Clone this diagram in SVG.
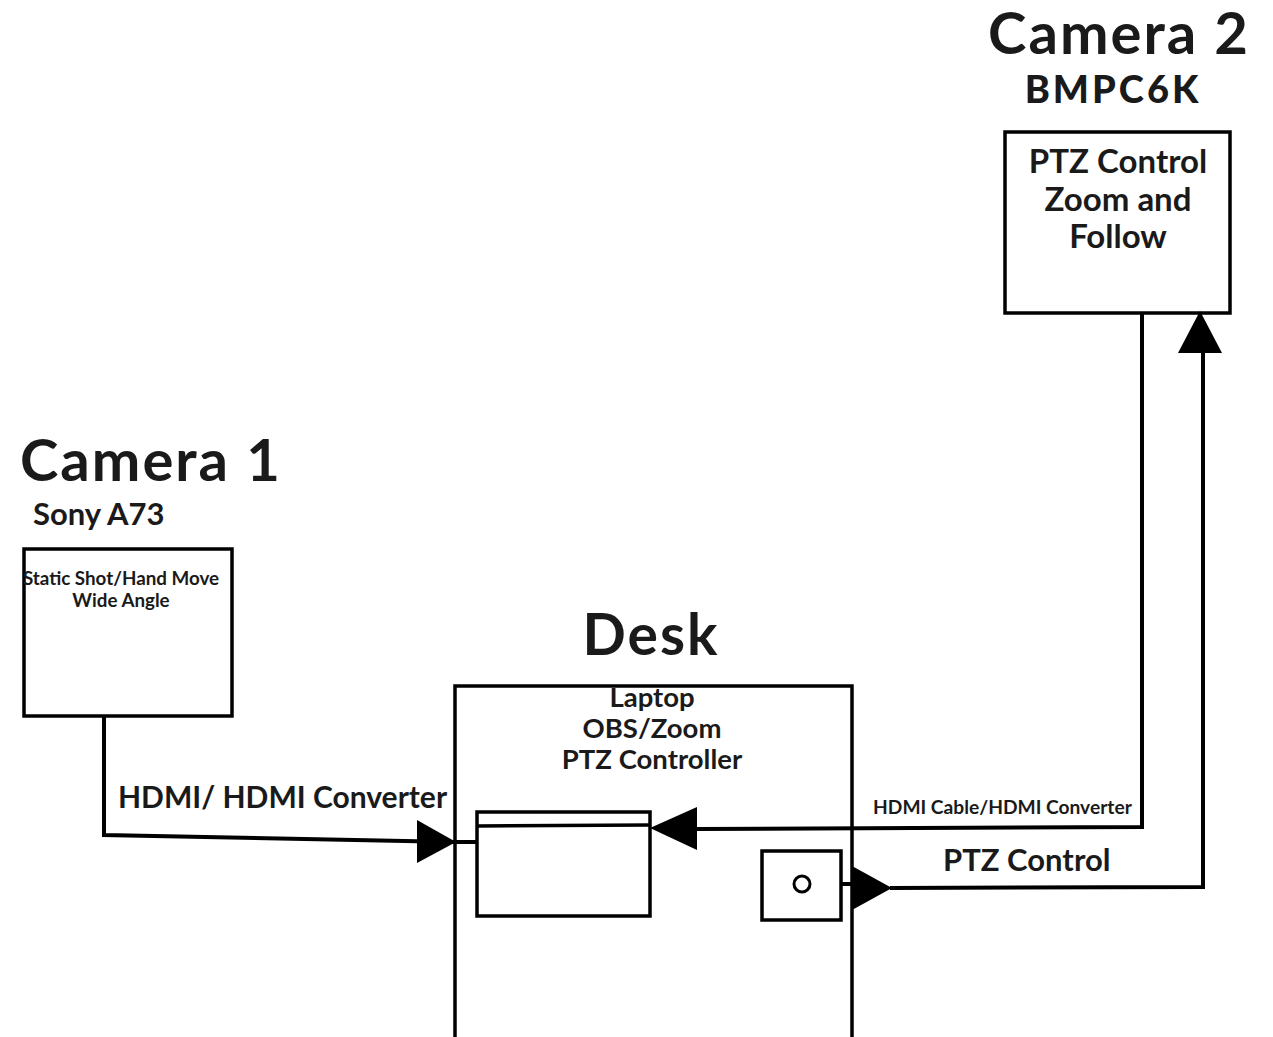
<svg xmlns="http://www.w3.org/2000/svg" width="1273" height="1037" viewBox="0 0 1273 1037">
<style>
text{font-family:Lato,"Liberation Sans",sans-serif;fill:#1a1a1a;font-weight:bold}
.box{fill:#fff;stroke:#000;stroke-width:3.5}
.ln{fill:none;stroke:#000;stroke-width:4;stroke-linejoin:miter}
.title{font-size:58px;letter-spacing:2px}
.lap{font-size:27.5px}
.cam2{font-size:33px}
</style>
<rect width="1273" height="1037" fill="#fff"/>
<g id="camera1">
<text class="title" x="20" y="481">Camera 1</text>
<text x="33" y="525" style="font-size:31px">Sony A73</text>
<rect class="box" x="24" y="549" width="208" height="167"/>
<text text-anchor="middle" x="121" y="585" style="font-size:18.8px">Static Shot/Hand Move</text>
<text text-anchor="middle" x="121" y="607" style="font-size:18.8px">Wide Angle</text>
</g>
<g id="camera2">
<text class="title" text-anchor="middle" x="1119" y="54">Camera 2</text>
<text x="1113" y="103" text-anchor="middle" style="font-size:38px;font-weight:900;letter-spacing:3px">BMPC6K</text>
<rect class="box" x="1005" y="132" width="225" height="181"/>
<text class="cam2" text-anchor="middle" x="1118" y="173">PTZ Control</text>
<text class="cam2" text-anchor="middle" x="1118" y="211">Zoom and</text>
<text class="cam2" text-anchor="middle" x="1118" y="248">Follow</text>
</g>
<g id="desk">
<text text-anchor="middle" x="651" y="655" style="font-size:57px;letter-spacing:2px">Desk</text>
<path class="ln" d="M455,1037 V686 H852 V1037" style="stroke-width:3.5"/>
<text class="lap" text-anchor="middle" x="652" y="707">Laptop</text>
<text class="lap" text-anchor="middle" x="652" y="738">OBS/Zoom</text>
<text class="lap" text-anchor="middle" x="652" y="769">PTZ Controller</text>
</g>
<g id="laptop">
<rect class="box" x="477" y="812" width="173" height="104"/>
<line class="ln" x1="477" y1="826" x2="650" y2="825" style="stroke-width:3.5"/>
</g>
<g id="ptz-controller">
<rect class="box" x="762" y="851" width="79" height="69"/>
<circle cx="802" cy="884" r="8" fill="none" stroke="#000" stroke-width="3"/>
</g>
<g id="connectors">
<path class="ln" d="M104,716 V835 L455,842 H477"/>
<polygon points="417,820 417,863 456,842" fill="#000"/>
<text x="118" y="808" style="font-size:30px">HDMI/ HDMI Converter</text>
<path class="ln" d="M1142,313 V827 L697,829"/>
<polygon points="650,828 697,807 697,850" fill="#000"/>
<text x="873" y="814" style="font-size:19.2px">HDMI Cable/HDMI Converter</text>
<path class="ln" d="M841,884 H852 M890,888 L1203,887 V352"/>
<polygon points="852,866 852,910 892,888" fill="#000"/>
<polygon points="1178,353 1222,353 1200,311" fill="#000"/>
<text x="943" y="871" style="font-size:31px">PTZ Control</text>
</g>
</svg>
